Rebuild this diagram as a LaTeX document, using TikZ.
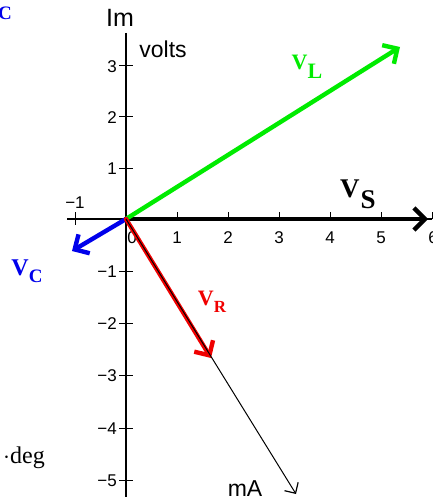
\documentclass[tikz,border=0pt]{standalone}
\usepackage{fontspec}
\setmainfont{Liberation Serif}
\setsansfont{Liberation Sans}
\usetikzlibrary{arrows.meta}

\definecolor{vlgreen}{RGB}{0,235,0}
\definecolor{vcblue}{RGB}{0,0,235}
\definecolor{vrred}{RGB}{240,0,0}

\tikzset{
  phasor/.style={line width=4.4pt, line cap=round,
    -{Straight Barb[length=11pt, width=22pt, line width=4.4pt]}},
  ticklbl/.style={font=\sffamily\fontsize{17}{17}\selectfont, inner sep=0pt},
  vlabel/.style={font=\bfseries\fontsize{24}{24}\selectfont, inner sep=0pt},
}

\begin{document}
\begin{tikzpicture}[x=1pt, y=-1pt, line join=round]

  % ── origin of the phasor plane ──
  \coordinate (O) at (126,219);

  % ── axes ──
  \coordinate (xl) at (67,219);
  \coordinate (xr) at (432,219);
  \coordinate (yt) at (126,33);
  \coordinate (yb) at (126,497);
  \draw[line width=1.4pt] (xl) -- (xr);
  \draw[line width=1.4pt] (yt) -- (yb);

  % ── ticks and numbers on the real axis ──
  \foreach \k in {0,...,6}
    \draw[line width=1pt] (126+51*\k,219) -- (126+51*\k,212);
  \draw[line width=1pt] (75,212) -- (75,225);
  \foreach \k/\x in {0/132,1/177,2/228,3/279,4/330,5/381,6/433}
    \node[ticklbl] (xn\k) at (\x,238) {\k};
  \node[ticklbl] (xnm) at (75,203) {−1};

  % ── ticks and numbers on the imaginary axis ──
  \foreach \k/\y in {3/66,2/117,1/168,-1/271,-2/323,-3/375,-4/428,-5/480}{
    \draw[line width=1pt] (119,\y) -- (133,\y);
    \node[ticklbl, anchor=east] (yn\k) at (117,\y+1)
      {\ifnum\k<0 −\the\numexpr-\k\relax\else\k\fi};
  }

  % ── axis captions ──
  \node[font=\sffamily\fontsize{25}{25}\selectfont, inner sep=0pt] (im) at (120,18) {Im};
  \node[font=\sffamily\fontsize{23}{23}\selectfont, inner sep=0pt] (volts) at (163,49) {volts};

  % ── tips of the phasors ──
  \coordinate (S) at (428,219);   % source
  \coordinate (L) at (400,47);    % inductor
  \coordinate (C) at (72,251);    % capacitor
  \coordinate (R) at (211,358);   % resistor
  \coordinate (I) at (296,494);   % current

  % ── phasors ──
  \draw[phasor, black] (O) -- (S);
  \draw[phasor, vlgreen] (O) -- (L);
  \draw[phasor, vcblue] (O) -- (C);
  \draw[phasor, vrred] (O) -- (R);
  \draw[line width=1pt, -{Straight Barb[length=8pt, width=16pt, line width=1.2pt]}] (O) -- (I);

  % ── labels ──
  \node[vlabel, vlgreen, font=\bfseries\fontsize{22}{22}\selectfont] (vl) at (307,67)
    {V\raisebox{-0.4em}{L}};
  \node[vlabel, black, font=\bfseries\fontsize{27}{27}\selectfont] (vs) at (358,194)
    {V\kern1pt\raisebox{-0.4em}{S}};
  \node[vlabel, vcblue] (vc) at (27,271) {V\raisebox{-0.3em}{\fontsize{19}{19}\selectfont C}};
  \node[vlabel, vrred, font=\bfseries\fontsize{22}{22}\selectfont] (vr) at (212,302)
    {V\raisebox{-0.3em}{\fontsize{17}{17}\selectfont R}};
  \node[font=\bfseries\fontsize{19}{19}\selectfont, vcblue, inner sep=0pt] (cc) at (5,13) {C};
  \node[font=\fontsize{24}{24}\selectfont, inner sep=0pt] (deg) at (24,458) {$\cdot$deg};
  \node[font=\sffamily\fontsize{23}{23}\selectfont, inner sep=0pt] (ma) at (245,489) {mA};

  \pgfresetboundingbox
  \path[use as bounding box] (0,0) rectangle (432,497);
\end{tikzpicture}
\end{document}
